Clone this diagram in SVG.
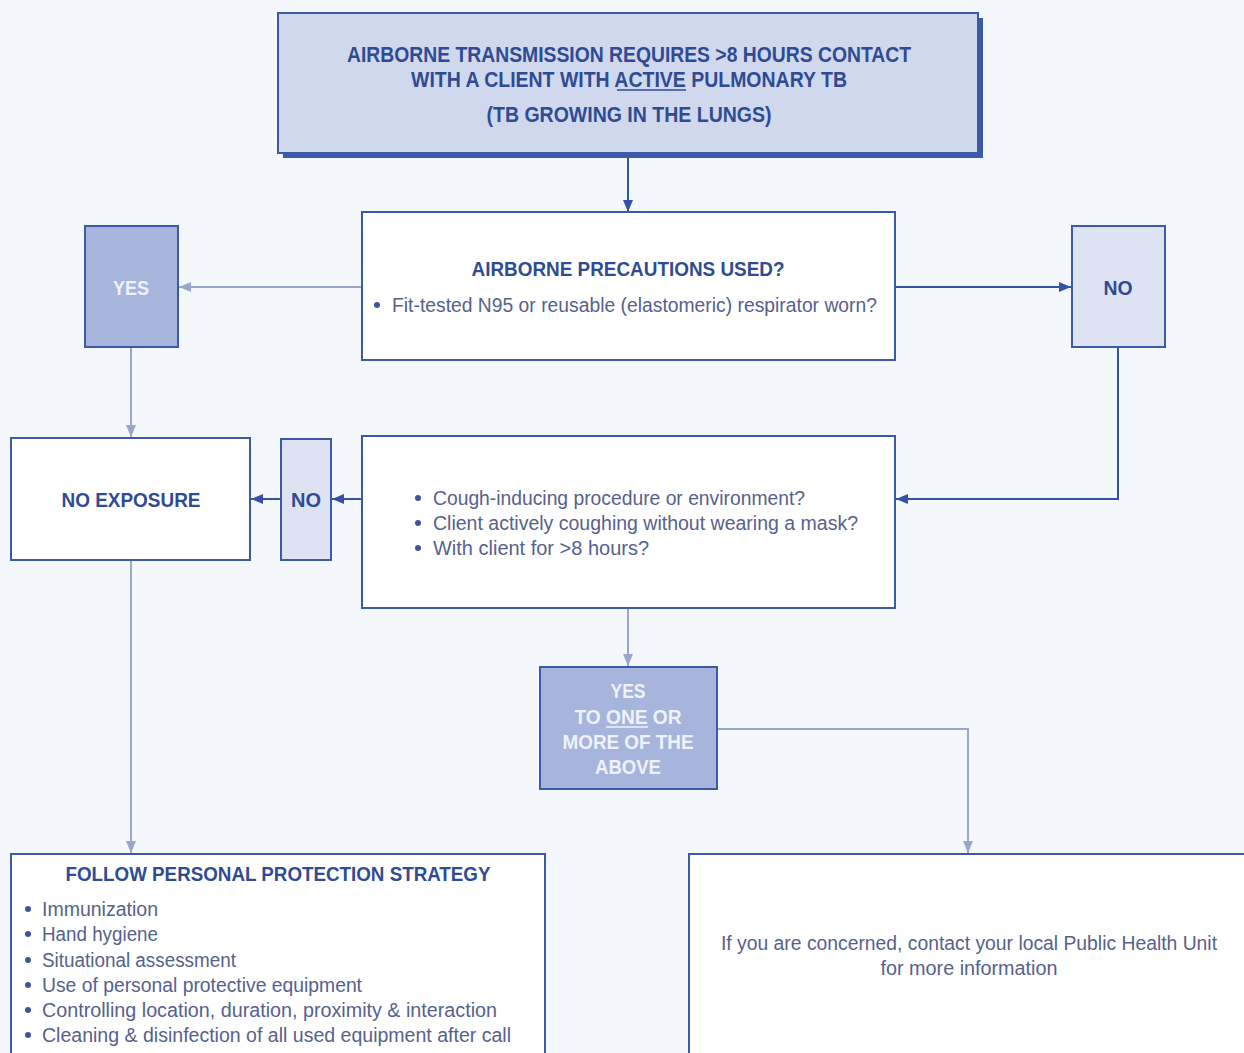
<svg xmlns="http://www.w3.org/2000/svg" width="1244" height="1053" viewBox="0 0 1244 1053">
  <style>
    .bg { fill: #f4f7fc; }
    .box { fill: #ffffff; stroke: #3d5aa8; stroke-width: 2; }
    .mid { fill: #a6b5dc; stroke: #3d5aa8; stroke-width: 2; }
    .pale { fill: #dde3f2; stroke: #3d5aa8; stroke-width: 2; }
    .head { fill: #cfd8ed; stroke: #3d5aa8; stroke-width: 2; }
    text { font-family: "Liberation Sans", Arial, sans-serif; }
    .title { font-size: 20px; font-weight: bold; fill: #2f4b93; text-anchor: middle; }
    .hdr { font-size: 22px; font-weight: bold; fill: #2f4b93; text-anchor: middle; }
    .body { font-size: 20px; fill: #56618e; }
    .bodyc { font-size: 20px; fill: #56618e; text-anchor: middle; }
    .light { font-size: 20px; font-weight: bold; fill: #eef2fa; text-anchor: middle; }
    .dark { stroke: #3652a6; stroke-width: 2; fill: none; marker-end: url(#arrDark); }
    .soft { stroke: #9aa7cb; stroke-width: 2; fill: none; marker-end: url(#arrSoft); }
    .dot { fill: #3d55a0; }
  </style>
  <defs>
    <marker id="arrDark" viewBox="0 0 12 10" refX="12" refY="5" markerWidth="12" markerHeight="10" orient="auto" markerUnits="userSpaceOnUse">
      <path d="M0,0 L12,5 L0,10 z" fill="#3652a6"/>
    </marker>
    <marker id="arrSoft" viewBox="0 0 12 10" refX="12" refY="5" markerWidth="12" markerHeight="10" orient="auto" markerUnits="userSpaceOnUse">
      <path d="M0,0 L12,5 L0,10 z" fill="#9aa7cb"/>
    </marker>
  </defs>

  <rect class="bg" x="0" y="0" width="1244" height="1053"/>

  <!-- connectors -->
  <g id="connectors">
    <line class="dark" x1="628" y1="153" x2="628" y2="212"/>
    <line class="soft" x1="362" y1="287" x2="179" y2="287"/>
    <line class="dark" x1="895" y1="287" x2="1071" y2="287"/>
    <line class="soft" x1="131" y1="347" x2="131" y2="437"/>
    <polyline class="dark" points="1118,347 1118,499 896,499"/>
    <line class="dark" x1="362" y1="499" x2="332" y2="499"/>
    <line class="dark" x1="281" y1="499" x2="251" y2="499"/>
    <line class="soft" x1="131" y1="560" x2="131" y2="853"/>
    <line class="soft" x1="628" y1="608" x2="628" y2="666"/>
    <polyline class="soft" points="717,729 968,729 968,853"/>
  </g>

  <!-- heading box with offset shadow -->
  <g id="heading">
    <rect x="283" y="18" width="700" height="140" fill="#3d5aa8"/>
    <rect class="head" x="278" y="13" width="700" height="140"/>
    <text class="hdr" x="629" y="62" textLength="564" lengthAdjust="spacingAndGlyphs">AIRBORNE TRANSMISSION REQUIRES &gt;8 HOURS CONTACT</text>
    <text class="hdr" x="629" y="87" textLength="436" lengthAdjust="spacingAndGlyphs">WITH A CLIENT WITH ACTIVE PULMONARY TB</text>
    <line x1="617" y1="90" x2="686" y2="90" stroke="#2f4b93" stroke-width="1.5"/>
    <text class="hdr" x="629" y="122" textLength="285" lengthAdjust="spacingAndGlyphs">(TB GROWING IN THE LUNGS)</text>
  </g>

  <g id="precautions">
    <rect class="box" x="362" y="212" width="533" height="148"/>
    <text class="title" x="628" y="276" textLength="313" lengthAdjust="spacingAndGlyphs">AIRBORNE PRECAUTIONS USED?</text>
    <circle class="dot" cx="377" cy="305" r="3"/>
    <text class="body" x="392" y="312" textLength="485" lengthAdjust="spacingAndGlyphs">Fit-tested N95 or reusable (elastomeric) respirator worn?</text>
  </g>

  <g id="yes-left">
    <rect class="mid" x="85" y="226" width="93" height="121"/>
    <text class="light" x="131" y="295" textLength="36" lengthAdjust="spacingAndGlyphs">YES</text>
  </g>

  <g id="no-right">
    <rect class="pale" x="1072" y="226" width="93" height="121"/>
    <text class="title" x="1118" y="295" textLength="29" lengthAdjust="spacingAndGlyphs">NO</text>
  </g>

  <g id="risk-questions">
    <rect class="box" x="362" y="436" width="533" height="172"/>
    <circle class="dot" cx="418" cy="498" r="3"/>
    <text class="body" x="433" y="505" textLength="372" lengthAdjust="spacingAndGlyphs">Cough-inducing procedure or environment?</text>
    <circle class="dot" cx="418" cy="523" r="3"/>
    <text class="body" x="433" y="530" textLength="425" lengthAdjust="spacingAndGlyphs">Client actively coughing without wearing a mask?</text>
    <circle class="dot" cx="418" cy="548" r="3"/>
    <text class="body" x="433" y="555" textLength="216" lengthAdjust="spacingAndGlyphs">With client for &gt;8 hours?</text>
  </g>

  <g id="no-small">
    <rect class="pale" x="281" y="439" width="50" height="121"/>
    <text class="title" x="306" y="507" textLength="30" lengthAdjust="spacingAndGlyphs">NO</text>
  </g>

  <g id="no-exposure">
    <rect class="box" x="11" y="438" width="239" height="122"/>
    <text class="title" x="131" y="507" textLength="139" lengthAdjust="spacingAndGlyphs">NO EXPOSURE</text>
  </g>

  <g id="yes-any">
    <rect class="mid" x="540" y="667" width="177" height="122"/>
    <text class="light" x="628" y="698" textLength="35" lengthAdjust="spacingAndGlyphs">YES</text>
    <text class="light" x="628" y="724" textLength="107" lengthAdjust="spacingAndGlyphs">TO ONE OR</text>
    <line x1="606" y1="727" x2="648" y2="727" stroke="#eef2fa" stroke-width="1.5"/>
    <text class="light" x="628" y="749" textLength="131" lengthAdjust="spacingAndGlyphs">MORE OF THE</text>
    <text class="light" x="628" y="774" textLength="66" lengthAdjust="spacingAndGlyphs">ABOVE</text>
  </g>

  <g id="protection-strategy">
    <rect class="box" x="11" y="854" width="534" height="210"/>
    <text class="title" x="278" y="881" textLength="425" lengthAdjust="spacingAndGlyphs">FOLLOW PERSONAL PROTECTION STRATEGY</text>
    <circle class="dot" cx="28" cy="909" r="3"/>
    <text class="body" x="42" y="916" textLength="116" lengthAdjust="spacingAndGlyphs">Immunization</text>
    <circle class="dot" cx="28" cy="934" r="3"/>
    <text class="body" x="42" y="941" textLength="116" lengthAdjust="spacingAndGlyphs">Hand hygiene</text>
    <circle class="dot" cx="28" cy="960" r="3"/>
    <text class="body" x="42" y="967" textLength="194" lengthAdjust="spacingAndGlyphs">Situational assessment</text>
    <circle class="dot" cx="28" cy="985" r="3"/>
    <text class="body" x="42" y="992" textLength="320" lengthAdjust="spacingAndGlyphs">Use of personal protective equipment</text>
    <circle class="dot" cx="28" cy="1010" r="3"/>
    <text class="body" x="42" y="1017" textLength="455" lengthAdjust="spacingAndGlyphs">Controlling location, duration, proximity &amp; interaction</text>
    <circle class="dot" cx="28" cy="1035" r="3"/>
    <text class="body" x="42" y="1042" textLength="469" lengthAdjust="spacingAndGlyphs">Cleaning &amp; disinfection of all used equipment after call</text>
  </g>

  <g id="public-health">
    <rect class="box" x="689" y="854" width="570" height="210"/>
    <text class="bodyc" x="969" y="950" textLength="496" lengthAdjust="spacingAndGlyphs">If you are concerned, contact your local Public Health Unit</text>
    <text class="bodyc" x="969" y="975" textLength="177" lengthAdjust="spacingAndGlyphs">for more information</text>
  </g>
</svg>
